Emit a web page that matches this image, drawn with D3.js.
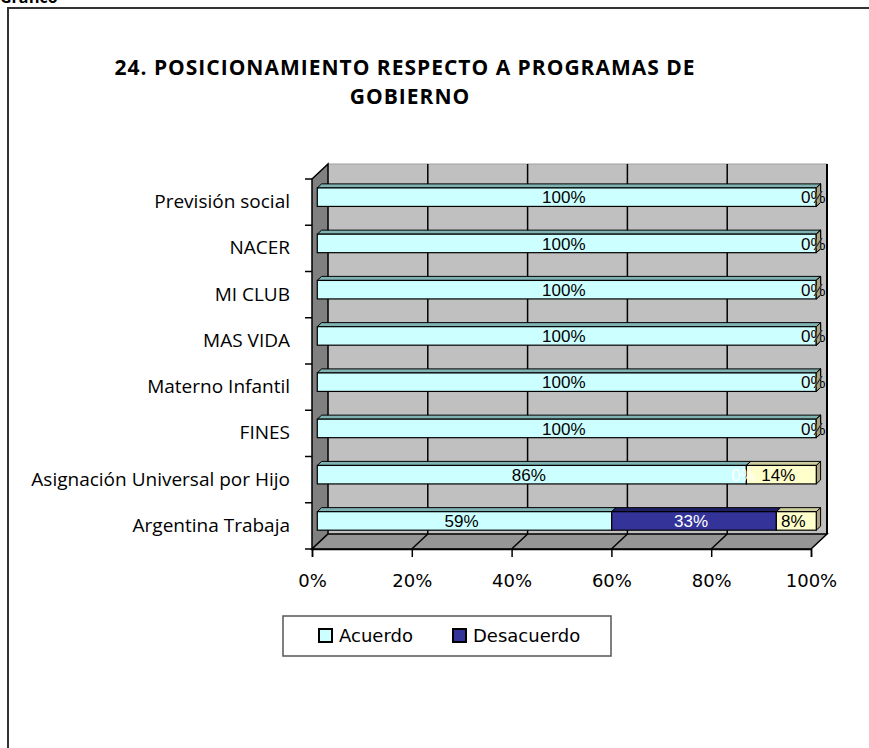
<!DOCTYPE html>
<html>
<head>
<meta charset="utf-8">
<script src="https://cdn.jsdelivr.net/npm/d3@7/dist/d3.min.js"></script>
<style>
  html, body { margin: 0; padding: 0; background: #fff; }
  svg { display: block; }
</style>
</head>
<body>
<svg id="chart" width="869" height="748"></svg>
<script>
// ---------- data ----------
const titleLines = ["24. POSICIONAMIENTO RESPECTO A PROGRAMAS DE", "GOBIERNO"];
const categories = ["Previsión social", "NACER", "MI CLUB", "MAS VIDA", "Materno Infantil", "FINES", "Asignación Universal por Hijo", "Argentina Trabaja"];
const seriesNames = ["Acuerdo", "Desacuerdo", "Otro"];
const legendNames = ["Acuerdo", "Desacuerdo"];
const acuerdo    = [100, 100, 100, 100, 100, 100, 86, 59];
const desacuerdo = [0, 0, 0, 0, 0, 0, 0, 33];
const otro       = [0, 0, 0, 0, 0, 0, 14, 8];
const xTicks = [0, 20, 40, 60, 80, 100];

// ---------- styles ----------
const front = { Acuerdo: "#CCFFFF", Desacuerdo: "#333399", Otro: "#FFFFCC" };
const topC  = { Acuerdo: "#7FB3B3", Desacuerdo: "#1F1F66", Otro: "#CCCC9E" };
const sideC = { Acuerdo: "#99CCCC", Desacuerdo: "#26267A", Otro: "#A8A27E" };
const labelC = { Acuerdo: "#000", Desacuerdo: "#fff", Otro: "#000" };

const svg = d3.select("#chart");
svg.append("rect").attr("width", 869).attr("height", 748).attr("fill", "#fff");

// top cut-off text above frame
svg.append("text").attr("x", 0).attr("y", 3)
  .attr("font-family", "'Open Sans', sans-serif").attr("font-weight", "bold").attr("font-size", 16)
  .attr("fill", "#000").text("Gráfico");

// frame
svg.append("rect").attr("x", 8).attr("y", 8).attr("width", 900).attr("height", 800)
  .attr("fill", "#fff").attr("stroke", "#333").attr("stroke-width", 2);

// title
const title = svg.append("text").attr("text-anchor", "middle")
  .attr("font-family", "'Open Sans', sans-serif").attr("font-weight", "bold").attr("font-size", 21)
  .attr("letter-spacing", 1).attr("fill", "#000");
title.append("tspan").attr("x", 405).attr("y", 75).text(titleLines[0]);
title.append("tspan").attr("x", 410).attr("y", 104).text(titleLines[1]);

// ---------- geometry ----------
const DX = 16, DY = -15;       // depth vector
const x = d3.scaleLinear().domain([0, 100]).range([312, 811]);
const y = d3.scaleBand().domain(categories).range([179, 549]).paddingInner(0.6).paddingOuter(0.3);
const yOuter = d3.scaleBand().domain(categories).range([179, 549]);
const yTop = 179, yBot = 549;
const f1 = 0.33, f2 = 0.6;     // bar depth fractions

const g = svg.append("g");

// back wall
g.append("rect").attr("x", x(0) + DX).attr("y", yTop + DY)
  .attr("width", x(100) - x(0)).attr("height", yBot - yTop)
  .attr("fill", "#C0C0C0").attr("stroke", "#A0A0A0").attr("stroke-width", 1);
// side wall
g.append("path").attr("d", d3.line()([[x(0), yTop], [x(0) + DX, yTop + DY], [x(0) + DX, yBot + DY], [x(0), yBot]]) + "Z")
  .attr("fill", "#808080").attr("stroke", "#000").attr("stroke-width", 1.5);
// floor
g.append("path").attr("d", d3.line()([[x(0), yBot], [x(100), yBot], [x(100) + DX, yBot + DY], [x(0) + DX, yBot + DY]]) + "Z")
  .attr("fill", "#969696").attr("stroke", "#000").attr("stroke-width", 1.5);

// gridlines (back wall + floor)
const gridVals = xTicks.filter(d => d > 0 && d < 100);
g.selectAll(".gw").data(gridVals).join("line")
  .attr("x1", d => x(d) + DX).attr("x2", d => x(d) + DX)
  .attr("y1", yTop + DY).attr("y2", yBot + DY)
  .attr("stroke", "#000").attr("stroke-width", 1.5);
g.selectAll(".gf").data(gridVals).join("line")
  .attr("x1", d => x(d)).attr("x2", d => x(d) + DX)
  .attr("y1", yBot).attr("y2", yBot + DY)
  .attr("stroke", "#000").attr("stroke-width", 1.5);
// right wall edge
g.append("line").attr("x1", x(100) + DX).attr("x2", x(100) + DX)
  .attr("y1", yTop + DY).attr("y2", yBot + DY).attr("stroke", "#000").attr("stroke-width", 2);

// ---------- bars ----------
const rows = categories.map((c, i) => ({ cat: c, Acuerdo: acuerdo[i], Desacuerdo: desacuerdo[i], Otro: otro[i] }));
const stack = d3.stack().keys(seriesNames)(rows);

const bars = g.append("g");
const labels = [];
rows.forEach((r, i) => {
  const yf = y(r.cat) + f1 * DY;          // front face top
  const h = y.bandwidth();
  const ox1 = f1 * DX, dyd = (f2 - f1) * DY, dxd = (f2 - f1) * DX;
  stack.forEach(s => {
    const d = s[i];
    const xa = x(d[0]) + ox1, xb = x(d[1]) + ox1;
    // right side face
    bars.append("path").attr("d", d3.line()([[xb, yf], [xb + dxd, yf + dyd], [xb + dxd, yf + h + dyd], [xb, yf + h]]) + "Z")
      .attr("fill", sideC[s.key]).attr("stroke", "#000").attr("stroke-width", 1);
    if (xb > xa) {
      // top face
      bars.append("path").attr("d", d3.line()([[xa, yf], [xa + dxd, yf + dyd], [xb + dxd, yf + dyd], [xb, yf]]) + "Z")
        .attr("fill", topC[s.key]).attr("stroke", "#000").attr("stroke-width", 1);
      // front face
      bars.append("rect").attr("x", xa).attr("y", yf).attr("width", xb - xa).attr("height", h)
        .attr("fill", front[s.key]).attr("stroke", "#000").attr("stroke-width", 1.2);
    }
    labels.push({ x: (xa + xb) / 2 - 3, y: yf + h / 2, text: (d[1] - d[0]) + "%", color: labelC[s.key] });
  });
});

g.append("g").selectAll("text").data(labels).join("text")
  .attr("x", d => d.x).attr("y", d => d.y).attr("dy", "0.36em")
  .attr("text-anchor", "middle")
  .attr("font-family", "'Liberation Sans', Arial, sans-serif").attr("font-size", 17)
  .attr("fill", d => d.color).text(d => d.text);

// ---------- axes ----------
// x axis
const xAxis = d3.axisBottom(x).tickValues(xTicks).tickFormat(d => d + "%").tickSize(8).tickPadding(17);
const xg = svg.append("g").attr("transform", `translate(0,${yBot})`).call(xAxis);
xg.select(".domain").attr("stroke", "#000").attr("stroke-width", 1.5);
xg.selectAll(".tick line").attr("stroke", "#000").attr("stroke-width", 1.5);
xg.selectAll("text").attr("font-family", "'DejaVu Sans', sans-serif").attr("font-size", 18).attr("fill", "#000");

// y axis ticks at category boundaries
const bounds = categories.map(c => yOuter(c)).concat([yBot]);
svg.append("g").selectAll("line").data(bounds).join("line")
  .attr("x1", x(0) - 7).attr("x2", x(0)).attr("y1", d => d).attr("y2", d => d)
  .attr("stroke", "#000").attr("stroke-width", 1.5);
// category labels
const yAxis = d3.axisLeft(yOuter).tickSize(0).tickPadding(22);
const yg = svg.append("g").attr("transform", `translate(${x(0)},0)`).call(yAxis);
yg.select(".domain").remove();
yg.selectAll("text").attr("font-family", "'Open Sans', sans-serif").attr("font-size", 19).attr("fill", "#000");

// ---------- legend ----------
const lg = svg.append("g");
lg.append("rect").attr("x", 283).attr("y", 616).attr("width", 328).attr("height", 40)
  .attr("fill", "#fff").attr("stroke", "#555").attr("stroke-width", 1.5);
const legendX = [319, 453];
legendNames.forEach((n, i) => {
  lg.append("rect").attr("x", legendX[i]).attr("y", 629).attr("width", 13).attr("height", 13)
    .attr("fill", front[n]).attr("stroke", "#000").attr("stroke-width", 2);
  lg.append("text").attr("x", legendX[i] + 20).attr("y", 642)
    .attr("font-family", "'DejaVu Sans', sans-serif").attr("font-size", 18).attr("fill", "#000").text(n);
});
</script>
</body>
</html>
